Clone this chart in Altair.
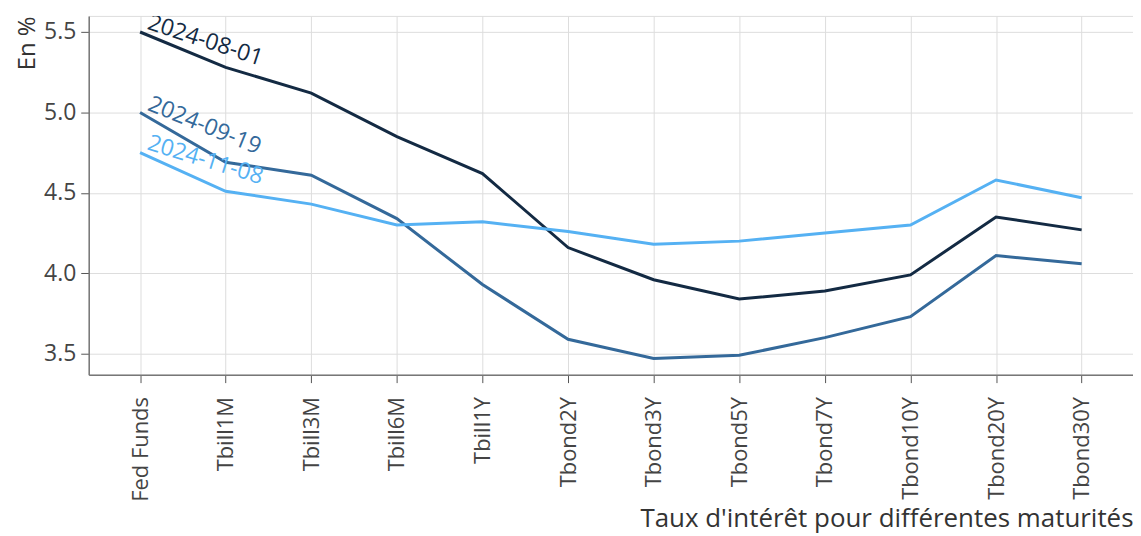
import altair as alt
import pandas as pd

maturities = ["Fed Funds", "Tbill1M", "Tbill3M", "Tbill6M", "Tbill1Y", "Tbond2Y",
              "Tbond3Y", "Tbond5Y", "Tbond7Y", "Tbond10Y", "Tbond20Y", "Tbond30Y"]
dates = ["2024-08-01", "2024-09-19", "2024-11-08"]
rates_0801 = [5.50, 5.28, 5.12, 4.85, 4.62, 4.16, 3.96, 3.84, 3.89, 3.99, 4.35, 4.27]
rates_0919 = [5.00, 4.69, 4.61, 4.34, 3.93, 3.59, 3.47, 3.49, 3.60, 3.73, 4.11, 4.06]
rates_1108 = [4.75, 4.51, 4.43, 4.30, 4.32, 4.26, 4.18, 4.20, 4.25, 4.30, 4.58, 4.47]
colors = ["#132a43", "#34699a", "#55b1f3"]
label_angles = [18, 22, 17]

series = [rates_0801, rates_0919, rates_1108]
rows = []
for d, vals in zip(dates, series):
    for m, v in zip(maturities, vals):
        rows.append({"maturite": m, "taux": v, "date": d})
df = pd.DataFrame(rows)

lab = pd.DataFrame({
    "maturite": [maturities[0]] * 3,
    "taux": [s[0] for s in series],
    "date": dates,
    "angle": label_angles,
})

font = "Open Sans"
W, H = 1048, 360

x = alt.X("maturite:N", sort=maturities,
          scale=alt.Scale(type="point", padding=0.6),
          axis=alt.Axis(title="Taux d'intérêt pour différentes maturités",
                        labelAngle=270, labelAlign="right", labelBaseline="middle",
                        labelFontSize=22, labelColor="#444", labelFont=font,
                        labelPadding=14, tickSize=8, tickColor="#555",
                        domainColor="#777", domainWidth=1.5,
                        gridColor="#dddddd", grid=True,
                        titleFont=font, titleFontSize=26, titleFontWeight="normal",
                        titleColor="#333", titleAnchor="end", titleAlign="right",
                        titleX=W, titleY=152, titleBaseline="alphabetic"))
y = alt.Y("taux:Q",
          scale=alt.Scale(domain=[3.37, 5.6], nice=False, zero=False),
          axis=alt.Axis(title="En %", values=[3.5, 4.0, 4.5, 5.0, 5.5], format=".1f",
                        labelFontSize=23, labelColor="#444", labelFont=font,
                        labelPadding=5, tickSize=8, tickColor="#555",
                        domainColor="#777", domainWidth=1.5,
                        gridColor="#dddddd", grid=True,
                        titleFont=font, titleFontSize=24, titleFontWeight="normal",
                        titleColor="#333", titleAngle=270, titleAlign="right",
                        titleBaseline="alphabetic", titleX=-54, titleY=0))
color = alt.Color("date:N", scale=alt.Scale(domain=dates, range=colors), legend=None)

lines = alt.Chart(df).mark_line(strokeWidth=3).encode(x=x, y=y, color=color)
texts = alt.Chart(lab).mark_text(align="left", baseline="alphabetic", dx=5, dy=-5,
                                 fontSize=23, font=font, clip=True).encode(
    x=alt.X("maturite:N", sort=maturities),
    y="taux:Q",
    text="date:N",
    color=color,
    angle=alt.Angle("angle:Q", scale=None),
)

chart = alt.layer(lines, texts).properties(
    width=W, height=H,
    autosize=alt.AutoSizeParams(type="none"),
    padding={"left": 81, "top": 7, "right": 0, "bottom": 161},
).configure_view(stroke=None).configure(background="white")

chart.save("out.html", embed_options={"renderer": "svg", "actions": False})
